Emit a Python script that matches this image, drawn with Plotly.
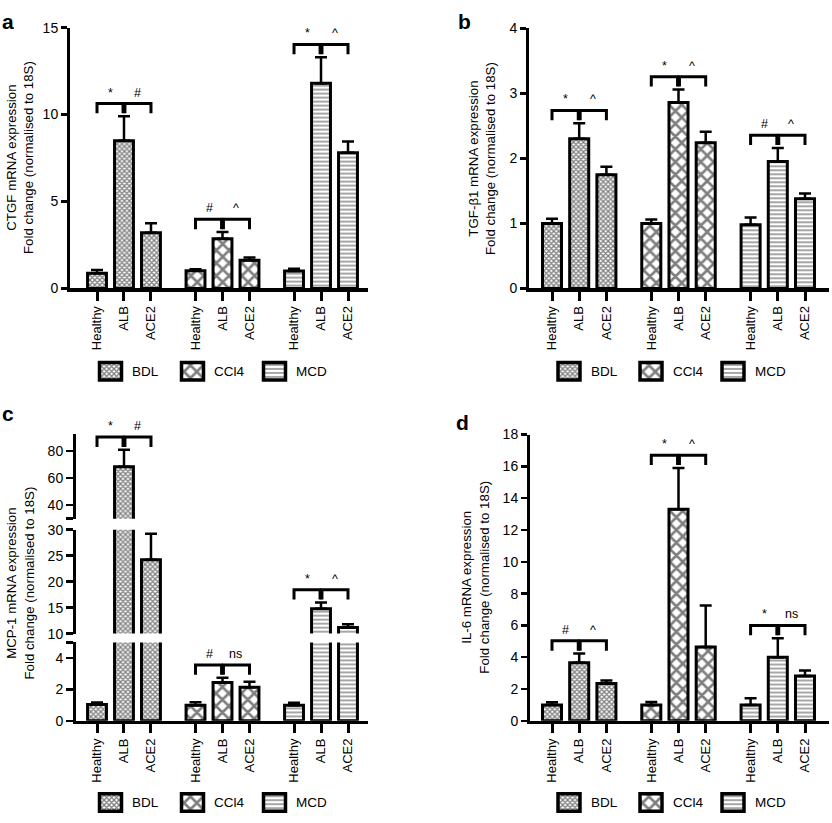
import plotly.graph_objects as go

W, H = 832, 823
FONT = "Liberation Sans, Arial, Helvetica, sans-serif"

# ---------------- data ----------------
samples = ["Healthy", "ALB", "ACE2"]
models = ["BDL", "CCl4", "MCD"]
subtitle = "Fold change (normalised to 18S)"

ctgf_mean = [[0.88, 8.5, 3.2], [1.02, 2.86, 1.62], [1.0, 11.8, 7.8]]
ctgf_sem = [[0.18, 1.4, 0.55], [0.08, 0.38, 0.16], [0.13, 1.5, 0.65]]
ctgf_sig = [["*", "#"], ["#", "^"], ["*", "^"]]

tgf_mean = [[1.0, 2.3, 1.75], [1.0, 2.86, 2.24], [0.98, 1.95, 1.38]]
tgf_sem = [[0.07, 0.24, 0.12], [0.06, 0.2, 0.17], [0.11, 0.21, 0.08]]
tgf_sig = [["*", "^"], ["*", "^"], ["#", "^"]]

mcp_mean = [[1.05, 68.5, 24.2], [1.0, 2.45, 2.15], [1.0, 14.8, 11.15]]
mcp_sem = [[0.12, 12.5, 5.0], [0.18, 0.3, 0.35], [0.15, 1.2, 0.65]]
mcp_sig = [["*", "#"], ["#", "ns"], ["*", "^"]]

il6_mean = [[1.0, 3.65, 2.35], [1.0, 13.3, 4.65], [1.0, 4.0, 2.82]]
il6_sem = [[0.17, 0.58, 0.18], [0.18, 2.6, 2.6], [0.42, 1.2, 0.35]]
il6_sig = [["#", "^"], ["*", "^"], ["*", "ns"]]

# ---------------- styling / layout ----------------
GAP = 3.65
BW = 0.7


def xpos(g, i):
    return g * GAP + i


def fx(p):
    return p / W


def fy(p):
    return 1 - p / H


patterns = [
    dict(shape="x", size=3.5, solidity=0.6, fgcolor="black", bgcolor="white"),
    dict(shape="x", size=9, solidity=0.5, fgcolor="black", bgcolor="white"),
    dict(shape="-", size=4, solidity=0.35, fgcolor="black", bgcolor="white"),
]

panels = [
    dict(letter="a", letter_xy=(0, 14), gene="CTGF", mean=ctgf_mean, sem=ctgf_sem, sig=ctgf_sig,
         xpx=(70, 368), first_px=97, last_px=348, title_xy=(20, 153), ticklen=6,
         segs=[dict(r=(0, 15), px=(286, 20), tv=[0, 5, 10, 15], tt=["0", "5", "10", "15"])],
         leg=(110.5, 370.5)),
    dict(letter="b", letter_xy=(456, 14), gene="TGF-β1", mean=tgf_mean, sem=tgf_sem, sig=tgf_sig,
         xpx=(529, 829), first_px=552, last_px=805, title_xy=(482, 154), ticklen=6,
         segs=[dict(r=(0, 4), px=(286, 20.7), tv=[0, 1, 2, 3, 4], tt=["0", "1", "2", "3", "4"])],
         leg=(569, 370.5)),
    dict(letter="c", letter_xy=(0, 414), gene="MCP-1", mean=mcp_mean, sem=mcp_sem, sig=mcp_sig,
         xpx=(76, 368), first_px=97, last_px=348, title_xy=(20, 587), ticklen=7,
         segs=[dict(r=(0, 5), px=(727, 647), tv=[0, 2, 4, 5], tt=["0", "2", "4", ""]),
               dict(r=(10, 30), px=(638, 532), tv=[10, 15, 20, 25, 30],
                    tt=["10", "15", "20", "25", "30"]),
               dict(r=(30, 92.5), px=(520.75, 434.8), tv=[30, 40, 60, 80], tt=["", "40", "60", "80"])],
         leg=(110.5, 810.3)),
    dict(letter="d", letter_xy=(454, 423), gene="IL-6", mean=il6_mean, sem=il6_sem, sig=il6_sig,
         xpx=(530, 829), first_px=552, last_px=805, title_xy=(475, 581), ticklen=6,
         segs=[dict(r=(0, 18), px=(727, 435), tv=list(range(0, 19, 2)),
                    tt=[str(v) for v in range(0, 19, 2)])],
         leg=(569, 810.3)),
]

fig = go.Figure()
layout = dict(
    width=W, height=H, margin=dict(l=0, r=0, t=0, b=0),
    paper_bgcolor="white", plot_bgcolor="white",
    font=dict(family=FONT, color="black", size=13),
    showlegend=False, bargap=0,
)
annotations = []
counter = {"x": 0, "y": 0}


def new_ref(kind):
    counter[kind] += 1
    n = counter[kind]
    ref = kind if n == 1 else f"{kind}{n}"
    key = f"{kind}axis" if n == 1 else f"{kind}axis{n}"
    return ref, key


def seg_index(segs, v):
    for k, s in enumerate(segs):
        if s["r"][0] <= v <= s["r"][1]:
            return k
    return len(segs) - 1


for p in panels:
    ppu_x = (p["last_px"] - p["first_px"]) / (2 + 2 * GAP)
    xr = ((p["xpx"][0] - p["first_px"]) / ppu_x, (p["xpx"][1] - p["first_px"]) / ppu_x)
    xref, xkey = new_ref("x")
    seg_refs = []
    for s in p["segs"]:
        yref, ykey = new_ref("y")
        seg_refs.append(yref)
        layout[ykey] = dict(
            domain=[fy(s["px"][0]), fy(s["px"][1])], range=list(s["r"]), anchor=xref,
            tickmode="array", tickvals=s["tv"], ticktext=s["tt"], ticks="outside",
            ticklen=p["ticklen"], tickwidth=2.5, tickcolor="black",
            showline=True, linewidth=3, linecolor="black", showgrid=False, zeroline=False,
            tickfont=dict(size=14, family=FONT, color="black"), fixedrange=True,
        )
    tick_x = [xpos(g, i) for g in range(3) for i in range(3)]
    layout[xkey] = dict(
        domain=[fx(p["xpx"][0]), fx(p["xpx"][1])], range=list(xr), anchor=seg_refs[0],
        tickmode="array", tickvals=tick_x, ticktext=samples * 3, tickangle=-90,
        ticks="outside", ticklen=9, tickwidth=3, tickcolor="black",
        showline=True, linewidth=3.5, linecolor="black", showgrid=False, zeroline=False,
        tickfont=dict(size=13, family=FONT, color="black"), fixedrange=True,
    )

    # bars, drawn on every axis segment (clipped by each segment's range)
    for g, model in enumerate(models):
        xs = [xpos(g, i) for i in range(3)]
        for yref in seg_refs:
            fig.add_trace(go.Bar(
                x=xs, y=p["mean"][g], width=BW, name=model, xaxis=xref, yaxis=yref,
                marker=dict(color="white", line=dict(color="black", width=3),
                            pattern=patterns[g]),
                hoverinfo="skip", showlegend=False,
            ))
    # upper error bars, each drawn on the segment that holds its bar top
    for k, yref in enumerate(seg_refs):
        ex, ey, ee = [], [], []
        for g in range(3):
            for i in range(3):
                if seg_index(p["segs"], p["mean"][g][i]) == k:
                    ex.append(xpos(g, i))
                    ey.append(p["mean"][g][i])
                    ee.append(p["sem"][g][i])
        if ex:
            fig.add_trace(go.Scatter(
                x=ex, y=ey, mode="markers", marker=dict(size=1, opacity=0),
                error_y=dict(type="data", array=ee, arrayminus=[0] * len(ee),
                             symmetric=False, color="black", thickness=2.5, width=6),
                xaxis=xref, yaxis=yref, hoverinfo="skip", showlegend=False,
            ))

    # significance brackets
    for g in range(3):
        top = p["mean"][g][1] + p["sem"][g][1]
        si = seg_index(p["segs"], top)
        s = p["segs"][si]
        ppu_y = (s["px"][0] - s["px"][1]) / (s["r"][1] - s["r"][0])
        by = top + 13 / ppu_y
        leg = 10 / ppu_y
        xh, xa, xc = (xpos(g, i) for i in range(3))
        d = 0.035
        fig.add_trace(go.Scatter(
            x=[xh, xh, xa - d, xa - d, None, xa + d, xa + d, xc, xc],
            y=[by - leg, by, by, by - leg, None, by - leg, by, by, by - leg],
            mode="lines", line=dict(color="black", width=3), xaxis=xref, yaxis=seg_refs[si],
            hoverinfo="skip", showlegend=False,
        ))
        for lab, xm in zip(p["sig"][g], [(xh + xa) / 2, (xa + xc) / 2]):
            annotations.append(dict(
                x=xm, y=by, xref=xref, yref=seg_refs[si], text=lab, showarrow=False,
                xanchor="center", yanchor="bottom", yshift=2,
                font=dict(size=12.5, family=FONT, color="black"),
            ))

    # axis title
    annotations.append(dict(
        x=fx(p["title_xy"][0]), y=fy(p["title_xy"][1]), xref="paper", yref="paper",
        text=f"{p['gene']} mRNA expression<br>{subtitle}", textangle=-90, showarrow=False,
        xanchor="center", yanchor="middle", font=dict(size=13.3, family=FONT, color="black"),
    ))
    # panel letter
    annotations.append(dict(
        x=fx(p["letter_xy"][0]), y=fy(p["letter_xy"][1]), xref="paper", yref="paper",
        text=f"<b>{p['letter']}</b>", showarrow=False, xanchor="left", yanchor="middle",
        font=dict(size=21, family=FONT, color="black"),
    ))

    # legend drawn as patterned swatches on a small hidden axis
    S = 82
    cx, cy = p["leg"]
    lxref, lxkey = new_ref("x")
    lyref, lykey = new_ref("y")
    layout[lxkey] = dict(domain=[fx(cx - S / 2), fx(cx + 2.5 * S)], range=[-0.5, 2.5],
                         anchor=lyref, visible=False, fixedrange=True)
    layout[lykey] = dict(domain=[fy(cy + 9 + 3.6), fy(cy - 9 - 3.6)], range=[-0.2, 1.2],
                         anchor=lxref, visible=False, fixedrange=True)
    for g, model in enumerate(models):
        fig.add_trace(go.Bar(
            x=[g], y=[1], base=0, width=22 / S, xaxis=lxref, yaxis=lyref, name=model,
            marker=dict(color="white", line=dict(color="black", width=3.5), pattern=patterns[g]),
            hoverinfo="skip", showlegend=False,
        ))
        annotations.append(dict(
            x=g + 19.5 / S, y=0.5, xref=lxref, yref=lyref, text=model, showarrow=False,
            xanchor="left", yanchor="middle", font=dict(size=13.5, family=FONT, color="black"),
        ))

layout["annotations"] = annotations
fig.update_layout(**layout)
fig.write_html(
    "out.html",
    config={"displayModeBar": False, "staticPlot": True},
    post_script="document.body.style.margin='0px';document.body.style.padding='0px';"
                "document.body.style.overflow='hidden';",
)
